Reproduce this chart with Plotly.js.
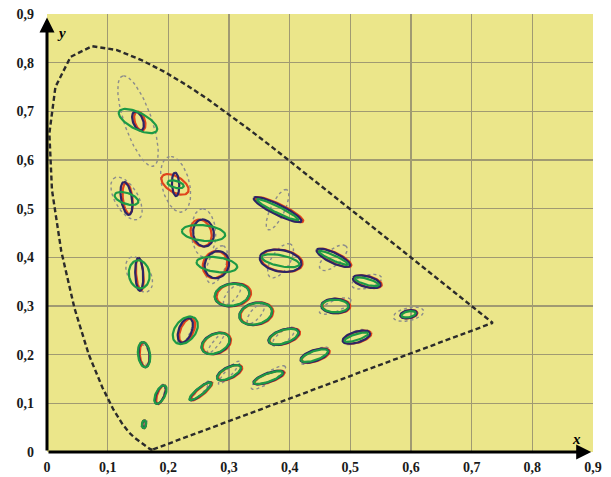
<!DOCTYPE html>
<html>
<head>
<meta charset="utf-8">
<script src="https://cdn.plot.ly/plotly-3.0.1.min.js"></script>
<style>html,body{margin:0;padding:0;background:#fff;}#chart{width:611px;height:477px;}</style>
</head>
<body>
<div id="chart"></div>
<script>
// Spectral locus (CIE 1931)
var locusX = [0.1741,0.1733,0.1714,0.1689,0.1644,0.1566,0.1440,0.1355,0.1241,0.1096,0.0913,0.0687,0.0454,0.0235,0.0082,0.0039,0.0139,0.0389,0.0743,0.1142,0.1547,0.1929,0.2296,0.2658,0.3016,0.3373,0.3731,0.4087,0.4441,0.4788,0.5125,0.5448,0.5752,0.6029,0.6270,0.6658,0.6915,0.7079,0.7190,0.7260,0.7300,0.7347,0.1741];
var locusY = [0.0050,0.0048,0.0051,0.0069,0.0109,0.0177,0.0297,0.0399,0.0578,0.0868,0.1327,0.2007,0.2950,0.4127,0.5384,0.6548,0.7502,0.8120,0.8338,0.8262,0.8059,0.7816,0.7543,0.7243,0.6923,0.6589,0.6245,0.5896,0.5547,0.5202,0.4866,0.4544,0.4242,0.3965,0.3725,0.3340,0.3083,0.2920,0.2809,0.2740,0.2700,0.2653,0.0050];

// Ellipse centres
var cenX = [0.160,0.187,0.253,0.150,0.131,0.212,0.258,0.152,0.280,0.380,0.160,0.228,0.305,0.385,0.472,0.527,0.475,0.510,0.596,0.344,0.390,0.441,0.278,0.300,0.365];
var cenY = [0.057,0.118,0.125,0.680,0.521,0.550,0.450,0.365,0.385,0.498,0.200,0.250,0.323,0.393,0.399,0.350,0.300,0.236,0.283,0.284,0.237,0.198,0.223,0.163,0.153];

// Dotted grey ellipses (semi-axes, angle in degrees)
var greyA = [0.0085,0.022,0.025,0.096,0.047,0.058,0.050,0.038,0.040,0.044,0.021,0.031,0.023,0.038,0.032,0.026,0.029,0.024,0.026,0.023,0.025,0.028,0.024,0.029,0.036];
var greyB = [0.0035,0.0055,0.005,0.023,0.020,0.023,0.020,0.019,0.015,0.012,0.0095,0.009,0.009,0.016,0.014,0.013,0.011,0.012,0.013,0.009,0.010,0.0095,0.0055,0.006,0.0095];
var greyT = [62.5,77,55.5,105,112.5,100,92,110,75.5,70,104,72,58,65.5,51,20,28.5,29.5,17,58.5,47,34.5,57.5,54,40];

// Blue ellipses
var blueA = [0.008,0.020,0.025,0.020,0.034,0.024,0.028,0.034,0.028,0.046,0.026,0.026,0.029,0.035,0.032,0.024,0.023,0.024,0.014,0.028,0.027,0.025,0.026,0.023,0.027];
var blueB = [0.003,0.007,0.0065,0.0085,0.009,0.006,0.017,0.0065,0.020,0.010,0.009,0.011,0.023,0.022,0.010,0.011,0.015,0.011,0.008,0.022,0.014,0.011,0.019,0.011,0.009];
var blueT = [88,72,47,105,97,92,95,92,80,148,95,75,20,165,148,160,178,22,15,25,25,25,40,35,25];

// Red ellipses
var redA = [0.008,0.020,0.025,0.020,0.032,0.027,0.028,0.033,0.028,0.046,0.025,0.026,0.029,0.035,0.032,0.024,0.023,0.024,0.014,0.028,0.027,0.025,0.026,0.023,0.027];
var redB = [0.003,0.006,0.0065,0.0085,0.008,0.015,0.017,0.006,0.020,0.010,0.008,0.011,0.023,0.022,0.010,0.011,0.015,0.011,0.008,0.022,0.014,0.011,0.019,0.011,0.009];
var redT = [88,74,47,102,95,138,100,94,80,148,93,72,20,165,148,160,178,22,15,25,25,25,40,35,25];
var redDX = [0,0.001,0.002,0.003,0.002,-0.001,-0.004,0.001,-0.003,0.003,0.001,0.003,0.003,0.002,0.002,0.002,0.002,0.002,0.001,0.002,0.002,0.002,0.002,0.002,0.002];

// Green ellipses
var greenA = [0.008,0.020,0.025,0.037,0.021,0.014,0.036,0.029,0.034,0.040,0.026,0.030,0.029,0.032,0.028,0.021,0.022,0.021,0.012,0.028,0.026,0.024,0.026,0.023,0.026];
var greenB = [0.0035,0.008,0.0065,0.016,0.011,0.007,0.016,0.017,0.015,0.006,0.010,0.018,0.022,0.011,0.005,0.006,0.013,0.006,0.006,0.021,0.013,0.009,0.018,0.010,0.008];
var greenT = [85,70,45,145,155,160,172,95,170,148,95,65,15,165,150,160,178,22,15,25,25,25,40,35,25];

var xTicks = [0,0.1,0.2,0.3,0.4,0.5,0.6,0.7,0.8,0.9];
var xTickText = ['0','0,1','0,2','0,3','0,4','0,5','0,6','0,7','0,8','0,9'];
var yTicks = [0,0.1,0.2,0.3,0.4,0.5,0.6,0.7,0.8,0.9];
var yTickText = ['0','0,1','0,2','0,3','0,4','0,5','0,6','0,7','0,8','0,9'];

function ellipseSet(A, B, T, DX) {
  var xs = [], ys = [], N = 72;
  for (var i = 0; i < cenX.length; i++) {
    var th = T[i] * Math.PI / 180, c = Math.cos(th), s = Math.sin(th);
    var cx = cenX[i] + (DX ? DX[i] : 0), cy = cenY[i];
    for (var k = 0; k <= N; k++) {
      var t = 2 * Math.PI * k / N;
      var u = A[i] * Math.cos(t), v = B[i] * Math.sin(t);
      xs.push(cx + u * c - v * s);
      ys.push(cy + u * s + v * c);
    }
    xs.push(null); ys.push(null);
  }
  return {x: xs, y: ys};
}

var g = ellipseSet(greyA, greyB, greyT);
var r = ellipseSet(redA, redB, redT, redDX);
var b = ellipseSet(blueA, blueB, blueT);
var gr = ellipseSet(greenA, greenB, greenT);

var traces = [
  {x: locusX, y: locusY, mode: 'lines', line: {color: '#2b2b2b', width: 2.4, dash: '5px,3px'}, hoverinfo: 'skip'},
  {x: g.x, y: g.y, mode: 'lines', line: {color: '#8c8c8c', width: 1.4, dash: 'dot'}, connectgaps: false, hoverinfo: 'skip'},
  {x: r.x, y: r.y, mode: 'lines', line: {color: '#e0441c', width: 2.2}, connectgaps: false, hoverinfo: 'skip'},
  {x: b.x, y: b.y, mode: 'lines', line: {color: '#2c2466', width: 2.2}, connectgaps: false, hoverinfo: 'skip'},
  {x: gr.x, y: gr.y, mode: 'lines', line: {color: '#1d9a45', width: 2.2}, connectgaps: false, hoverinfo: 'skip'}
];

function bold(arr) { return arr.map(function (s) { return '<b>' + s + '</b>'; }); }

var tickFont = {family: 'Liberation Serif, Times New Roman, serif', size: 14, color: '#1a1a1a'};
var layout = {
  width: 611, height: 477,
  margin: {l: 47, r: 18, t: 14, b: 25, pad: 0},
  paper_bgcolor: '#ffffff',
  plot_bgcolor: '#ebe68a',
  showlegend: false,
  xaxis: {range: [0, 0.9], tickvals: xTicks, ticktext: bold(xTickText), showgrid: true, gridcolor: '#a09a72', gridwidth: 1.5,
          zeroline: false, showline: false, ticks: '', ticklabelstandoff: 5, tickfont: tickFont, fixedrange: true},
  yaxis: {range: [0, 0.9], tickvals: yTicks, ticktext: bold(yTickText), showgrid: true, gridcolor: '#a09a72', gridwidth: 1.5,
          zeroline: false, showline: false, ticks: '', ticklabelstandoff: 12, tickfont: tickFont, fixedrange: true},
  annotations: [
    {x: 0, y: 0.893, ax: 0, ay: 0, xref: 'x', yref: 'y', axref: 'x', ayref: 'y', showarrow: true, arrowhead: 2, arrowsize: 1, arrowwidth: 3, arrowcolor: '#000', text: ''},
    {x: 0.897, y: 0, ax: 0, ay: 0, xref: 'x', yref: 'y', axref: 'x', ayref: 'y', showarrow: true, arrowhead: 2, arrowsize: 1, arrowwidth: 3, arrowcolor: '#000', text: ''},
    {x: 0.024, y: 0.861, xref: 'x', yref: 'y', text: '<b><i>y</i></b>', showarrow: false, font: {family: 'Liberation Serif, serif', size: 15, color: '#000'}},
    {x: 0.873, y: 0.026, xref: 'x', yref: 'y', text: '<b><i>x</i></b>', showarrow: false, font: {family: 'Liberation Serif, serif', size: 15, color: '#000'}}
  ]
};

Plotly.newPlot('chart', traces, layout, {displayModeBar: false, staticPlot: true});
</script>
</body>
</html>
